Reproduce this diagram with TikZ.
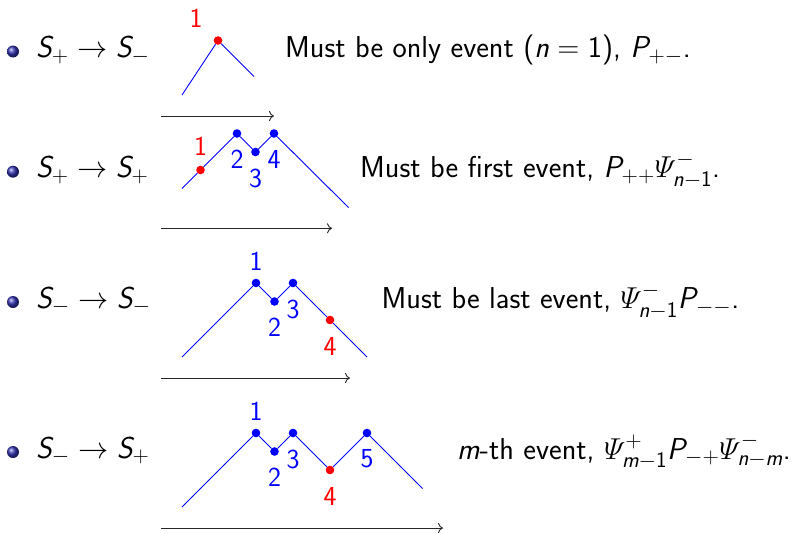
\RequirePackage{fix-cm}
\documentclass[tikz,border=0pt]{standalone}
\usepackage{amsmath}
\usetikzlibrary{arrows.meta,calc}
\DeclareMathAlphabet{\mathsfit}{TU}{lmss}{m}{it}
\SetSymbolFont{operators}{normal}{TU}{lmss}{m}{n}
\renewcommand{\defaultscriptratio}{.74}
\renewcommand{\defaultscriptscriptratio}{.55}
\definecolor{structblue}{rgb}{0.2,0.2,0.7}
\begin{document}
\begin{tikzpicture}[x=1pt,y=-1pt,
  txt/.style={anchor=base west, inner sep=0pt, font=\fontsize{30.2}{36}\selectfont\sffamily},
  lab/.style={inner sep=0pt, font=\fontsize{27.5}{33}\selectfont\sffamily},
  path/.style={blue, line width=0.9pt},
  axis/.style={black!85, line width=0.9pt, -{To[length=5pt,width=10pt]}},
  dotb/.style={circle, fill=blue, inner sep=0pt, minimum size=8.6pt},
  dotr/.style={circle, fill=red, inner sep=0pt, minimum size=8.6pt},
  ballb/.style={circle, inner sep=0pt, minimum size=12pt, ball color=structblue}]
\useasboundingbox (0,0) rectangle (802,533);

% ---------- row 1 ----------
\node[ballb] (b1) at (13,51.5) {};
\node[txt] (t1) at (36,57.5) {$\mathsfit{S}_+ \to \mathsfit{S}_-$};
\node[txt] (d1) at (285,57.5) {Must be only event ($\mathsfit{n}=1$), $\mathsfit{P}_{+-}$.};
\coordinate (s1) at (182,95);
\node[dotr] (p11) at (218,40.5) {};
\coordinate (e1) at (254,76.5);
\draw[path] (s1) -- (p11) -- (e1);
\node[lab, red] (l11) at (196,18.5) {1};
\coordinate (a1s) at (161,116);
\coordinate (a1e) at (274,116);
\draw[axis] (a1s) -- (a1e);

% ---------- row 2 ----------
\node[ballb] (b2) at (13,171.7) {};
\node[txt] (t2) at (36,177.7) {$\mathsfit{S}_+ \to \mathsfit{S}_+$};
\node[txt] (d2) at (360,177.7) {Must be first event, $\mathsfit{P}_{++}\varPsi^-_{\mathsfit{n}-1}$.};
\coordinate (s2) at (182,188.5);
\node[dotr] (p21) at (200.5,170) {};
\node[dotb] (p22) at (237,133.5) {};
\node[dotb] (p23) at (255.5,152) {};
\node[dotb] (p24) at (274,133.5) {};
\coordinate (e2) at (348.5,207.5);
\draw[path] (s2) -- (p21) -- (p22) -- (p23) -- (p24) -- (e2);
\node[lab, red] (l21) at ($(p21)+(0,-24)$) {1};
\node[lab, blue] (l22) at ($(p22)+(0,26)$) {2};
\node[lab, blue] (l23) at ($(p23)+(0,26)$) {3};
\node[lab, blue] (l24) at ($(p24)+(0,26)$) {4};
\coordinate (a2s) at (161,228.3);
\coordinate (a2e) at (332,228.3);
\draw[axis] (a2s) -- (a2e);

% ---------- row 3 ----------
\node[ballb] (b3) at (13,302) {};
\node[txt] (t3) at (36,308) {$\mathsfit{S}_- \to \mathsfit{S}_-$};
\node[txt] (d3) at (381.5,308.5) {Must be last event, $\varPsi^-_{\mathsfit{n}-1}\mathsfit{P}_{--}$.};
\coordinate (s3) at (182,357);
\node[dotb] (p31) at (256,283) {};
\node[dotb] (p32) at (274.5,301.5) {};
\node[dotb] (p33) at (293,283) {};
\node[dotr] (p34) at (330,320) {};
\coordinate (e3) at (367,357);
\draw[path] (s3) -- (p31) -- (p32) -- (p33) -- (p34) -- (e3);
\node[lab, blue] (l31) at ($(p31)+(0,-22)$) {1};
\node[lab, blue] (l32) at ($(p32)+(0,26)$) {2};
\node[lab, blue] (l33) at ($(p33)+(0,26)$) {3};
\node[lab, red] (l34) at ($(p34)+(0,26)$) {4};
\coordinate (a3s) at (161,378);
\coordinate (a3e) at (350,378);
\draw[axis] (a3s) -- (a3e);

% ---------- row 4 ----------
\node[ballb] (b4) at (13,452) {};
\node[txt] (t4) at (36,458) {$\mathsfit{S}_- \to \mathsfit{S}_+$};
\node[txt] (d4) at (457,459) {$\mathsfit{m}$-th event, $\varPsi^+_{\mathsfit{m}-1}\mathsfit{P}_{-+}\varPsi^-_{\mathsfit{n}-\mathsfit{m}}$.};
\coordinate (s4) at (182,507);
\node[dotb] (p41) at (256,433) {};
\node[dotb] (p42) at (274.5,451.5) {};
\node[dotb] (p43) at (293,433) {};
\node[dotr] (p44) at (330,470) {};
\node[dotb] (p45) at (367,433) {};
\coordinate (e4) at (422.5,488.5);
\draw[path] (s4) -- (p41) -- (p42) -- (p43) -- (p44) -- (p45) -- (e4);
\node[lab, blue] (l41) at ($(p41)+(0,-22)$) {1};
\node[lab, blue] (l42) at ($(p42)+(0,26)$) {2};
\node[lab, blue] (l43) at ($(p43)+(0,26)$) {3};
\node[lab, red] (l44) at ($(p44)+(0,26)$) {4};
\node[lab, blue] (l45) at ($(p45)+(0,26)$) {5};
\coordinate (a4s) at (161,528);
\coordinate (a4e) at (443,528);
\draw[axis] (a4s) -- (a4e);
\end{tikzpicture}
\end{document}
